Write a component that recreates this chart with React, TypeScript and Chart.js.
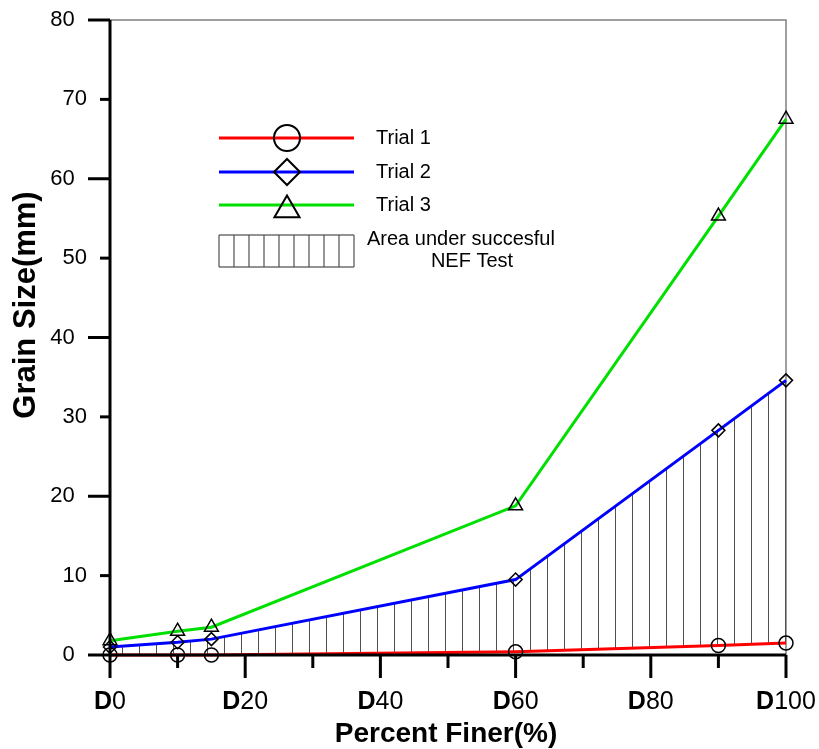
import { useEffect, useRef } from 'react';
import { Chart, registerables } from 'chart.js';

Chart.register(...registerables);

// ---------- data ----------
const percentFiner = [0, 10, 15, 60, 90, 100];
const trial1 = [0, 0, 0, 0.4, 1.2, 1.5];
const trial2 = [1.0, 1.6, 2.0, 9.5, 28.3, 34.6];
const trial3 = [1.8, 3.0, 3.5, 18.8, 55.3, 67.5];
const seriesNames = ['Trial 1', 'Trial 2', 'Trial 3'];
const seriesColors = ['#ff0000', '#0000ff', '#00e000'];
const seriesMarkers = ['circle', 'rectRot', 'triangle'];
const areaLabel = ['Area under succesful', 'NEF Test'];
const xTickLabelValues = [0, 20, 40, 60, 80, 100];
const xTickPrefix = 'D';
const xTitle = 'Percent Finer(%)';
const yTitle = 'Grain Size(mm)';

const FONT = "'Liberation Sans', Arial, sans-serif";

function makeHatchPattern(ctx: CanvasRenderingContext2D) {
  const c = document.createElement('canvas');
  c.width = 17;
  c.height = 4;
  const g = c.getContext('2d')!;
  g.fillStyle = '#505050';
  g.fillRect(3, 0, 1, 4);
  return ctx.createPattern(c, 'repeat')!;
}

function drawMarker(ctx: CanvasRenderingContext2D, style: string, x: number, y: number, r: number) {
  ctx.beginPath();
  if (style === 'circle') {
    ctx.arc(x, y, r, 0, Math.PI * 2);
  } else if (style === 'rectRot') {
    ctx.moveTo(x - r, y);
    ctx.lineTo(x, y - r);
    ctx.lineTo(x + r, y);
    ctx.lineTo(x, y + r);
    ctx.closePath();
  } else {
    ctx.moveTo(x, y - r);
    ctx.lineTo(x + r * 0.866, y + r * 0.5);
    ctx.lineTo(x - r * 0.866, y + r * 0.5);
    ctx.closePath();
  }
  ctx.stroke();
}

const decorPlugin = {
  id: 'decor',
  beforeDatasetsDraw(chart: any) {
    const { ctx, chartArea: a } = chart;
    ctx.save();
    ctx.strokeStyle = '#808080';
    ctx.lineWidth = 1.5;
    ctx.beginPath();
    ctx.moveTo(a.left, a.top);
    ctx.lineTo(a.right, a.top);
    ctx.lineTo(a.right, a.bottom);
    ctx.stroke();
    ctx.restore();
  },
  afterDraw(chart: any) {
    const { ctx, chartArea: a, scales } = chart;
    const xs = scales.x;
    const ys = scales.y;
    ctx.save();
    // axis lines
    ctx.strokeStyle = '#000';
    ctx.lineWidth = 3;
    ctx.lineCap = 'butt';
    ctx.beginPath();
    ctx.moveTo(a.left, a.top);
    ctx.lineTo(a.left, a.bottom);
    ctx.moveTo(a.left, a.bottom);
    ctx.lineTo(a.right, a.bottom);
    ctx.stroke();
    // y ticks
    ys.ticks.forEach((t: any) => {
      const py = ys.getPixelForValue(t.value);
      const len = t.value % 20 === 0 ? 22 : 10;
      ctx.beginPath();
      ctx.moveTo(a.left - len, py);
      ctx.lineTo(a.left, py);
      ctx.stroke();
    });
    // x ticks
    xs.ticks.forEach((t: any) => {
      const px = xs.getPixelForValue(t.value);
      const len = t.value % 20 === 0 ? 23 : 13;
      ctx.beginPath();
      ctx.moveTo(px, a.bottom);
      ctx.lineTo(px, a.bottom + len);
      ctx.stroke();
    });
    // x tick labels: bold D + regular number
    ctx.fillStyle = '#000';
    ctx.textBaseline = 'middle';
    ctx.textAlign = 'left';
    xTickLabelValues.forEach((v) => {
      const px = xs.getPixelForValue(v);
      ctx.font = `bold 25px ${FONT}`;
      const wD = ctx.measureText(xTickPrefix).width;
      ctx.font = `25px ${FONT}`;
      const wN = ctx.measureText(String(v)).width;
      const x0 = px - (wD + wN) / 2;
      ctx.font = `bold 25px ${FONT}`;
      ctx.fillText(xTickPrefix, x0, a.bottom + 47);
      ctx.font = `25px ${FONT}`;
      ctx.fillText(String(v), x0 + wD, a.bottom + 47);
    });
    // axis titles
    ctx.textAlign = 'center';
    ctx.font = `bold 28px ${FONT}`;
    ctx.fillText(xTitle, 446, a.bottom + 79);
    ctx.save();
    ctx.translate(26, 305);
    ctx.rotate(-Math.PI / 2);
    ctx.font = `bold 31px ${FONT}`;
    ctx.fillText(yTitle, 0, 0);
    ctx.restore();

    // legend
    const lx0 = 219, lx1 = 354, mx = 287, tx = 376;
    const rows = [138, 172, 205];
    const markerR = [13, 13, 14.5];
    const markerDy = [0, 0, 5];
    rows.forEach((ry, i) => {
      ctx.strokeStyle = seriesColors[i];
      ctx.lineWidth = 3;
      ctx.beginPath();
      ctx.moveTo(lx0, ry);
      ctx.lineTo(lx1, ry);
      ctx.stroke();
      ctx.strokeStyle = '#000';
      ctx.lineWidth = 2;
      drawMarker(ctx, seriesMarkers[i], mx, ry + markerDy[i], markerR[i]);
      ctx.fillStyle = '#000';
      ctx.font = `20px ${FONT}`;
      ctx.textAlign = 'left';
      ctx.textBaseline = 'middle';
      ctx.fillText(seriesNames[i], tx, ry);
    });
    // hatch box
    const bTop = 235, bBot = 267;
    ctx.strokeStyle = '#707070';
    ctx.lineWidth = 1.5;
    ctx.beginPath();
    ctx.moveTo(lx0, bTop);
    ctx.lineTo(lx1, bTop);
    ctx.moveTo(lx0, bBot);
    ctx.lineTo(lx1, bBot);
    ctx.stroke();
    ctx.strokeStyle = '#505050';
    ctx.lineWidth = 1.2;
    ctx.beginPath();
    for (let i = 0; i <= 9; i++) {
      const hx = lx0 + ((lx1 - lx0) * i) / 9;
      ctx.moveTo(hx, bTop);
      ctx.lineTo(hx, bBot);
    }
    ctx.stroke();
    ctx.fillStyle = '#000';
    ctx.font = `20px ${FONT}`;
    ctx.textAlign = 'left';
    ctx.fillText(areaLabel[0], 367, 239);
    ctx.textAlign = 'center';
    ctx.fillText(areaLabel[1], 472, 261);
    ctx.restore();
  },
};

export default function App() {
  const ref = useRef<HTMLCanvasElement | null>(null);
  useEffect(() => {
    const canvas = ref.current!;
    const ctx = canvas.getContext('2d')!;
    const hatch = makeHatchPattern(ctx);
    const series = [trial1, trial2, trial3];
    const datasets: any[] = series.map((vals, i) => ({
      label: seriesNames[i],
      data: percentFiner.map((x, j) => ({ x, y: vals[j] })),
      borderColor: seriesColors[i],
      borderWidth: 3,
      backgroundColor: i === 1 ? hatch : 'rgba(0,0,0,0)',
      fill: i === 1 ? 0 : false,
      tension: 0,
      pointStyle: seriesMarkers[i],
      pointRadius: i === 0 ? 7 : i === 1 ? 6.5 : 8,
      pointBorderColor: '#000',
      pointBorderWidth: 1.5,
      pointBackgroundColor: 'rgba(0,0,0,0)',
      clip: false,
    }));
    const chart = new Chart(canvas, {
      type: 'line',
      data: { datasets },
      options: {
        animation: false,
        responsive: true,
        maintainAspectRatio: false,
        layout: { padding: { top: 20, right: 33, left: 0, bottom: 0 } },
        plugins: { legend: { display: false }, tooltip: { enabled: false } },
        scales: {
          x: {
            type: 'linear',
            min: 0,
            max: 100,
            ticks: { stepSize: 10, display: false },
            grid: { display: false },
            border: { display: false },
            afterFit: (s: any) => { s.height = 94; s.paddingLeft = 0; s.paddingRight = 0; },
          },
          y: {
            type: 'linear',
            min: 0,
            max: 80,
            ticks: {
              stepSize: 10,
              color: '#000',
              padding: 23,
              font: { family: FONT, size: 22 },
              callback: (v: any) => (Number(v) % 20 === 0 ? `${v}  ` : `${v}`),
            },
            grid: { display: true, drawOnChartArea: false, drawTicks: false },
            border: { display: false },
            afterFit: (s: any) => { s.width = 110; s.paddingTop = 0; s.paddingBottom = 0; },
          },
        },
      },
      plugins: [decorPlugin],
    });
    return () => chart.destroy();
  }, []);
  return (
    <div style={{ position: 'fixed', left: 0, top: 0, width: 819, height: 749, background: '#fff' }}>
      <canvas ref={ref} />
    </div>
  );
}
